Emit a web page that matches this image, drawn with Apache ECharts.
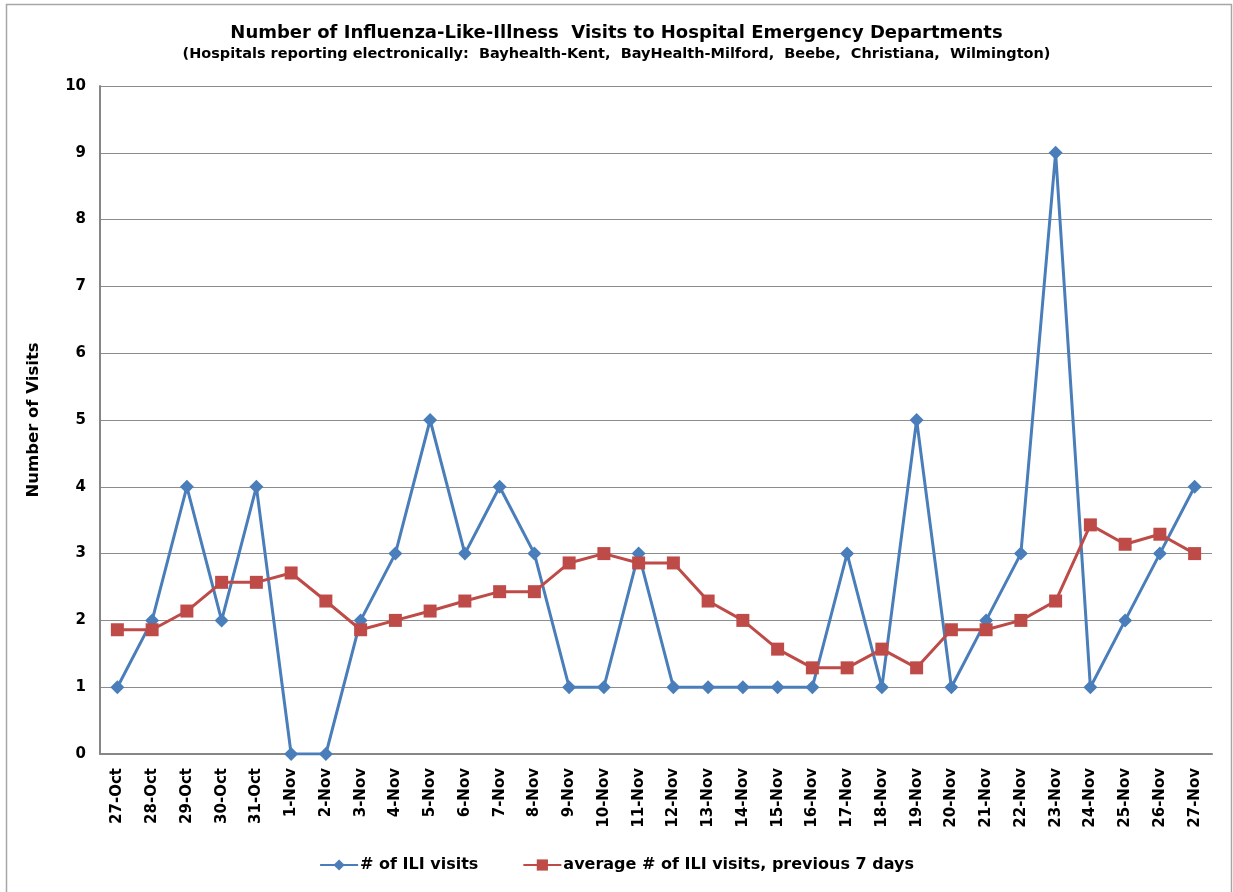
<!DOCTYPE html>
<html>
<head>
<meta charset="utf-8">
<script src="https://cdn.jsdelivr.net/npm/echarts@6/dist/echarts.min.js"></script>
<style>
  html, body { margin: 0; padding: 0; background: #fff; }
  #main { width: 1233px; height: 892px; }
</style>
</head>
<body>
<div id="main"></div>
<script>
// data
const days = ['27-Oct','28-Oct','29-Oct','30-Oct','31-Oct','1-Nov','2-Nov','3-Nov','4-Nov','5-Nov',
  '6-Nov','7-Nov','8-Nov','9-Nov','10-Nov','11-Nov','12-Nov','13-Nov','14-Nov','15-Nov','16-Nov',
  '17-Nov','18-Nov','19-Nov','20-Nov','21-Nov','22-Nov','23-Nov','24-Nov','25-Nov','26-Nov','27-Nov'];
const visits = [1,2,4,2,4,0,0,2,3,5,3,4,3,1,1,3,1,1,1,1,1,3,1,5,1,2,3,9,1,2,3,4];
const avg7 = [1.86,1.86,2.14,2.57,2.57,2.71,2.29,1.86,2.0,2.14,2.29,2.43,2.43,2.86,3.0,2.86,2.86,
  2.29,2.0,1.57,1.29,1.29,1.57,1.29,1.86,1.86,2.0,2.29,3.43,3.14,3.29,3.0];

// DejaVu is wider than Arial, closer to the stretched look of the original
const font = 'DejaVu Sans, Liberation Sans, sans-serif';
const chart = echarts.init(document.getElementById('main'));

const option = {
  animation: false,
  title: {
    text: 'Number of Influenza-Like-Illness  Visits to Hospital Emergency Departments',
    subtext: '(Hospitals reporting electronically:  Bayhealth-Kent,  BayHealth-Milford,  Beebe,  Christiana,  Wilmington)',
    left: 'center',
    top: 19,
    itemGap: 5,
    textStyle: { fontFamily: font, fontWeight: 'bold', fontSize: 18, color: '#000' },
    subtextStyle: { fontFamily: font, fontWeight: 'bold', fontSize: 14.5, color: '#000' }
  },
  graphic: [{
    type: 'rect',
    shape: { x: 6.5, y: 4.5, width: 1225, height: 900 },
    style: { fill: 'none', stroke: '#a6a6a6', lineWidth: 1.5 },
    silent: true
  }],
  legend: {
    bottom: 14,
    left: 'center',
    itemGap: 44,
    itemWidth: 38,
    itemHeight: 14,
    textStyle: { fontFamily: font, fontWeight: 'bold', fontSize: 16, color: '#000', padding: [0, 0, 0, -3] },
    data: ['# of ILI visits', 'average # of ILI visits, previous 7 days']
  },
  grid: { left: 100, right: 21, top: 86, bottom: 138 },
  xAxis: {
    type: 'category',
    data: days,
    boundaryGap: true,
    axisLine: { lineStyle: { color: '#868686', width: 2 } },
    axisTick: { show: false },
    axisLabel: {
      rotate: 90, interval: 0, margin: 14,
      fontFamily: font, fontWeight: 'bold', fontSize: 15, color: '#000'
    }
  },
  yAxis: {
    type: 'value',
    min: 0, max: 10, interval: 1,
    name: 'Number of Visits',
    nameLocation: 'middle',
    nameGap: 58,
    nameTextStyle: { fontFamily: font, fontWeight: 'bold', fontSize: 16.5, color: '#000' },
    axisLine: { show: true, lineStyle: { color: '#868686', width: 2 } },
    axisTick: { show: false },
    axisLabel: { margin: 14, fontFamily: font, fontWeight: 'bold', fontSize: 15, color: '#000' },
    splitLine: { lineStyle: { color: '#8c8c8c', width: 1 } }
  },
  series: [
    {
      name: '# of ILI visits',
      type: 'line',
      data: visits,
      symbol: 'diamond',
      symbolSize: 14,
      lineStyle: { color: '#4a7ebb', width: 3 },
      itemStyle: { color: '#4a7ebb' }
    },
    {
      name: 'average # of ILI visits, previous 7 days',
      type: 'line',
      data: avg7,
      symbol: 'rect',
      symbolSize: 13,
      lineStyle: { color: '#be4b48', width: 3 },
      itemStyle: { color: '#be4b48' }
    }
  ]
};

chart.setOption(option);
</script>
</body>
</html>
